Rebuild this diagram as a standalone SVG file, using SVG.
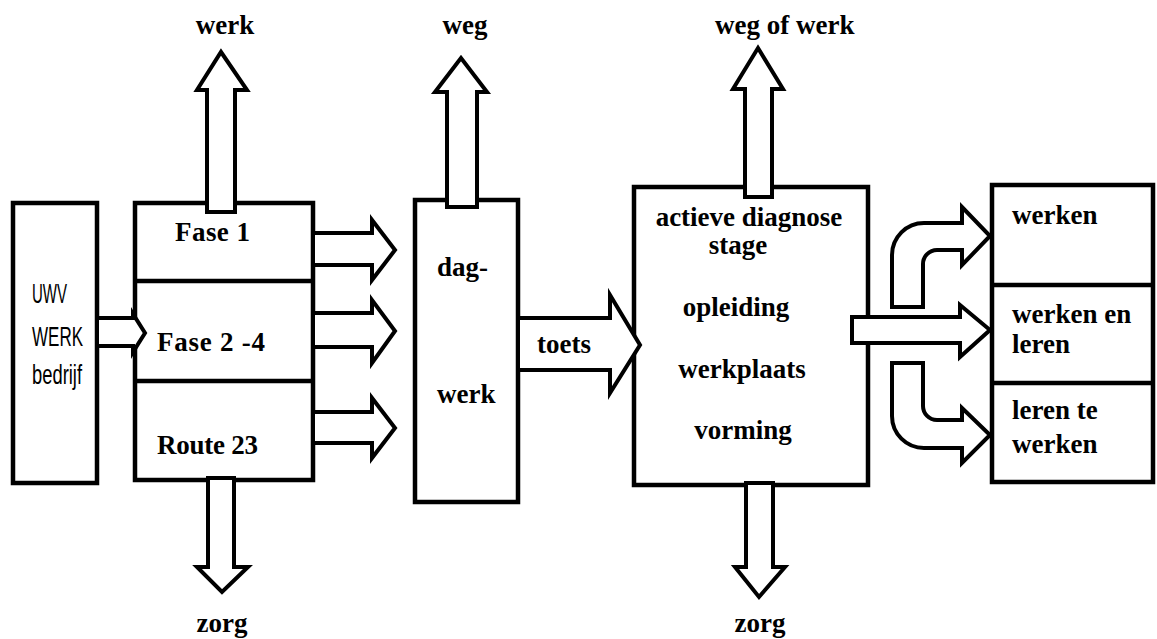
<svg xmlns="http://www.w3.org/2000/svg" width="1157" height="639" viewBox="0 0 1157 639">
<style>
.box{fill:#fff;stroke:#000;stroke-width:4.5}
.ln{stroke:#000;stroke-width:4.5;fill:none}
.arr{fill:#fff;stroke:#000;stroke-width:4;stroke-linejoin:miter}
.t{font-family:"Liberation Serif","Times New Roman",serif;font-weight:bold;font-size:27px;fill:#000}
.s{font-family:"Liberation Sans Narrow","Liberation Sans",Arial,sans-serif;font-size:28px;fill:#000}
</style>
<rect width="1157" height="639" fill="#fff"/>

<g id="uwv">
<rect class="box" x="13" y="203" width="84" height="280"/>
<text class="s" x="32" y="303" textLength="35" lengthAdjust="spacingAndGlyphs">UWV</text>
<text class="s" x="32" y="346" textLength="51" lengthAdjust="spacingAndGlyphs">WERK</text>
<text class="s" x="32" y="384" textLength="50" lengthAdjust="spacingAndGlyphs">bedrijf</text>
</g>

<g id="fase">
<rect class="box" x="135" y="203" width="178" height="277"/>
<line class="ln" x1="135" y1="281" x2="313" y2="281"/>
<line class="ln" x1="135" y1="381" x2="313" y2="381"/>
<text class="t" x="175" y="241" textLength="75" lengthAdjust="spacing">Fase 1</text>
<text class="t" x="157" y="351" textLength="108" lengthAdjust="spacing">Fase 2 -4</text>
<text class="t" x="157" y="454" textLength="101" lengthAdjust="spacing">Route 23</text>
</g>

<g id="dagwerk">
<rect class="box" x="415" y="200" width="103" height="302"/>
<text class="t" x="437" y="276">dag-</text>
<text class="t" x="437" y="403">werk</text>
</g>

<g id="diagnose">
<rect class="box" x="634" y="187" width="234" height="298"/>
<text class="t" x="749" y="226" text-anchor="middle">actieve diagnose</text>
<text class="t" x="738" y="254" text-anchor="middle">stage</text>
<text class="t" x="736" y="316" text-anchor="middle">opleiding</text>
<text class="t" x="742" y="378" text-anchor="middle">werkplaats</text>
<text class="t" x="743" y="439" text-anchor="middle">vorming</text>
</g>

<g id="uitkomst">
<rect class="box" x="992" y="185" width="161" height="297"/>
<line class="ln" x1="992" y1="285" x2="1153" y2="285"/>
<line class="ln" x1="992" y1="383" x2="1153" y2="383"/>
<text class="t" x="1012" y="224">werken</text>
<text class="t" x="1012" y="323">werken en</text>
<text class="t" x="1012" y="353">leren</text>
<text class="t" x="1012" y="419">leren te</text>
<text class="t" x="1012" y="453">werken</text>
</g>

<g id="labels">
<text class="t" x="225" y="34" text-anchor="middle">werk</text>
<text class="t" x="465" y="34" text-anchor="middle">weg</text>
<text class="t" x="715" y="34">weg of werk</text>
<text class="t" x="222" y="632" text-anchor="middle">zorg</text>
<text class="t" x="760" y="632" text-anchor="middle">zorg</text>
</g>

<g id="connectors">
<path class="arr" d="M207,212 L207,90 L197,90 L221,52 L247,90 L235,90 L235,212 Z"/>
<path class="arr" d="M447,207 L447,92 L435,92 L461,58 L487,92 L477,92 L477,207 Z"/>
<path class="arr" d="M745,197 L745,89 L733,89 L758,48 L783,89 L772,89 L772,197 Z"/>
<path class="arr" d="M208,478 L208,567 L197,567 L222,592 L248,567 L234,567 L234,478 Z"/>
<path class="arr" d="M746,483 L746,567 L735,567 L759,597 L785,567 L773,567 L773,483 Z"/>
<path class="arr" d="M97,318 L133,318 L133,314 L145,333 L133,352 L133,346 L97,346 Z"/>
<path class="arr" d="M313,233 L372,233 L372,220 L395,250 L372,280 L372,265 L313,265 Z"/>
<path class="arr" d="M313,313 L372,313 L372,300 L395,331 L372,363 L372,347 L313,347 Z"/>
<path class="arr" d="M313,412 L372,412 L372,398 L395,428 L372,458 L372,443 L313,443 Z"/>
<path class="arr" d="M518,318 L610,318 L610,295 L640,345 L610,393 L610,370 L518,370 Z"/>
<text class="t" x="537" y="353">toets</text>
<path class="arr" d="M852,317 L960,317 L960,305 L990,330 L960,357 L960,343 L852,343 Z"/>
<path class="arr" d="M892,307 L892,255 A32,32 0 0 1 924,223 L962,223 L962,207 L990,236 L962,265 L962,250 L937,250 A14,14 0 0 0 923,264 L923,307 Z"/>
<path class="arr" d="M892,363 L923,363 L923,406 A14,14 0 0 0 937,420 L962,420 L962,408 L990,435 L962,463 L962,448 L924,448 A32,32 0 0 1 892,416 Z"/>
</g>
</svg>
